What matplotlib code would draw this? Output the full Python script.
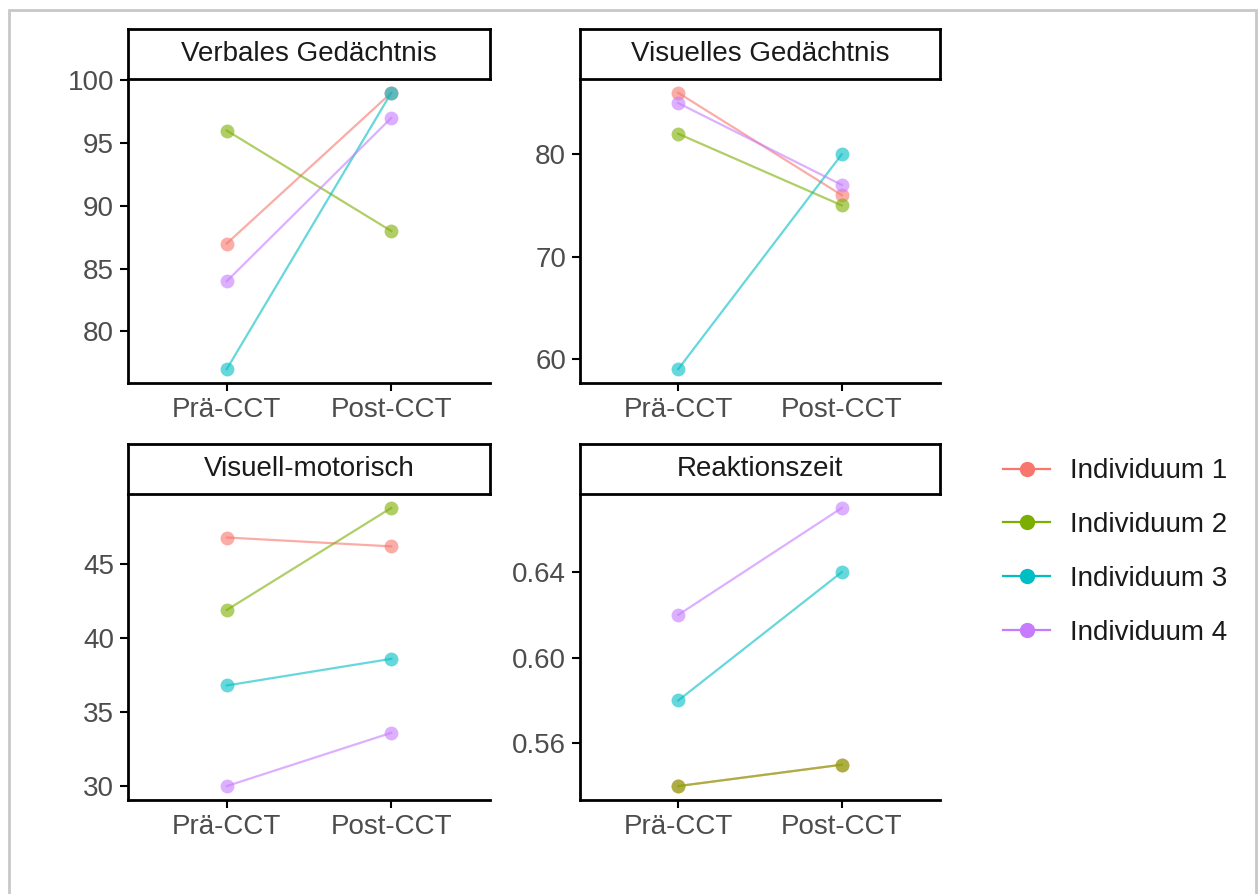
import matplotlib
matplotlib.use('Agg')
import matplotlib.pyplot as plt
from matplotlib.lines import Line2D
from matplotlib.patches import Rectangle

plt.rcParams['font.family'] = ['Liberation Sans', 'DejaVu Sans']

# data
phases = ['Prä-CCT', 'Post-CCT']
individuals = ['Individuum 1', 'Individuum 2', 'Individuum 3', 'Individuum 4']
colors = ['#F8766D', '#7CAE00', '#00BFC4', '#C77CFF']

panel_titles = ['Verbales Gedächtnis', 'Visuelles Gedächtnis', 'Visuell-motorisch', 'Reaktionszeit']

verbal = [[87, 99], [96, 88], [77, 99], [84, 97]]
visual = [[86, 76], [82, 75], [59, 80], [85, 77]]
visuomotor = [[46.8, 46.2], [41.9, 48.8], [36.8, 38.6], [30.0, 33.6]]
reaction = [[0.54, 0.55], [0.54, 0.55], [0.58, 0.64], [0.62, 0.67]]

panel_data = [verbal, visual, visuomotor, reaction]
panel_ticks = [
    [80, 85, 90, 95, 100],
    [60, 70, 80],
    [30, 35, 40, 45],
    [0.56, 0.60, 0.64],
]
tick_fmt = ['{:.0f}', '{:.0f}', '{:.0f}', '{:.2f}']

W, H = 1259, 894
FS = 20
grey = '#4D4D4D'

fig = plt.figure(figsize=(W / 100, H / 100), dpi=100)

# light grey frame around the picture
fig.patches.append(Rectangle((9 / W, -0.01), (1256 - 9) / W, 1 - 10 / H + 0.01,
                             transform=fig.transFigure, fill=False,
                             edgecolor='#C8C8C8', linewidth=2))

# panel boxes in pixels: left, right, top, bottom
boxes = [(128, 490, 79, 383), (580, 940, 79, 383),
         (128, 490, 494, 800), (580, 940, 494, 800)]
strip_h = 50

for k, (title, data) in enumerate(zip(panel_titles, panel_data)):
    l, r, t, b = boxes[k]
    ax = fig.add_axes([l / W, 1 - b / H, (r - l) / W, (b - t) / H])
    x = [1, 2]
    for i, vals in enumerate(data):
        ax.plot(x, vals, color=colors[i], alpha=0.6, linewidth=1.6,
                marker='o', markersize=10, markeredgewidth=0)
    flat = [v for vals in data for v in vals]
    lo, hi = min(flat), max(flat)
    pad = (hi - lo) * 0.05
    ax.set_ylim(lo - pad, hi + pad)
    ax.set_xlim(0.4, 2.6)
    ax.set_xticks(x)
    ax.set_xticklabels(phases)
    ax.set_yticks(panel_ticks[k])
    ax.set_yticklabels([tick_fmt[k].format(v) for v in panel_ticks[k]])
    ax.tick_params(labelsize=FS, labelcolor=grey, color='black',
                   length=6, width=1.5, pad=4)
    for side in ['top', 'right']:
        ax.spines[side].set_visible(False)
    for side in ['left', 'bottom']:
        ax.spines[side].set_linewidth(2)

    # facet strip
    sax = fig.add_axes([l / W, 1 - t / H, (r - l) / W, strip_h / H])
    sax.set_xticks([])
    sax.set_yticks([])
    for sp in sax.spines.values():
        sp.set_linewidth(2)
    sax.text(0.5, 0.5, title, ha='center', va='center', fontsize=FS,
             color='#1A1A1A', transform=sax.transAxes)

handles = [Line2D([0], [0], color=c, marker='o', markersize=10, linewidth=1.6)
           for c in colors]
fig.legend(handles, individuals, loc='center left',
           bbox_to_anchor=(978 / W, 1 - 552 / H), frameon=False,
           fontsize=FS, handlelength=1.7, labelspacing=1.0,
           handletextpad=0.7, labelcolor='#1A1A1A')

fig.savefig('out.png', dpi=100)
